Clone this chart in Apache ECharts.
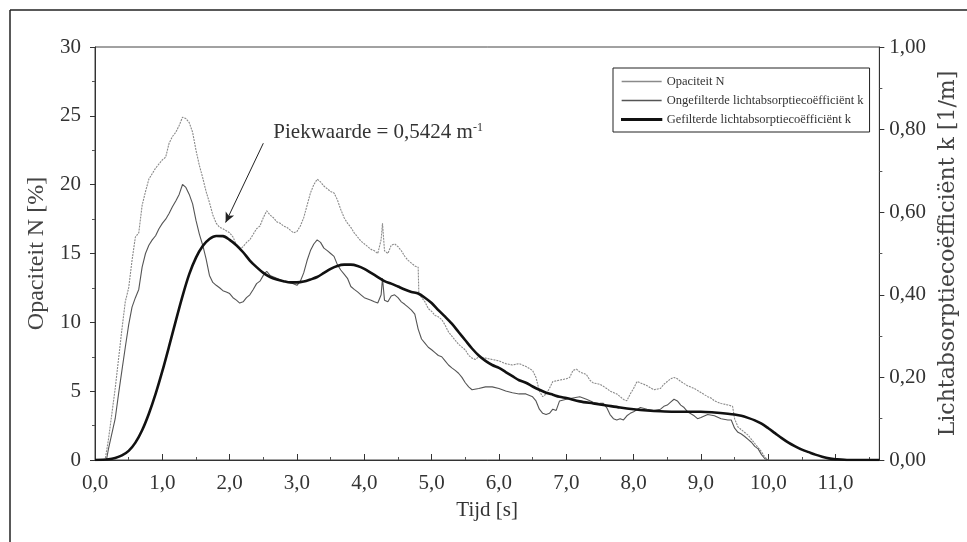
<!DOCTYPE html>
<html>
<head>
<meta charset="utf-8">
<script src="https://cdn.jsdelivr.net/npm/echarts@6/dist/echarts.min.js"></script>
<style>
html,body{margin:0;padding:0;background:#fff;}
#c{width:967px;height:542px;}
</style>
</head>
<body>
<div id="c"></div>
<script>
// ---- data ----
var seriesNames = ['Opaciteit N', 'Ongefilterde lichtabsorptiecoëfficiënt k', 'Gefilterde lichtabsorptiecoëfficiënt k'];
var xTicks = [0,1,2,3,4,5,6,7,8,9,10,11];
// Opaciteit N [%] : [t, N]
var opacityN = [
[0,0],[0.15,0],[0.2,1.5],[0.3,5.2],[0.4,9.5],[0.45,11.5],[0.5,12.5],[0.55,14.5],[0.6,16.2],[0.65,16.5],
[0.7,18.5],[0.75,19.5],[0.8,20.4],[0.9,21.2],[1.0,21.8],[1.05,22.0],[1.1,23.0],[1.15,23.5],[1.2,23.8],[1.25,24.3],
[1.3,24.9],[1.35,24.8],[1.4,24.5],[1.45,23.8],[1.5,22.5],[1.55,21.4],[1.6,20.5],[1.65,19.5],[1.7,18.7],[1.75,17.8],
[1.8,17.2],[1.85,16.9],[1.9,16.8],[2.0,16.5],[2.05,16.2],[2.1,15.6],[2.15,15.3],[2.2,15.5],[2.25,15.8],[2.3,16.0],
[2.35,16.4],[2.4,16.8],[2.45,17.0],[2.5,17.6],[2.55,18.1],[2.6,17.8],[2.65,17.6],[2.7,17.3],[2.75,17.2],[2.8,17.0],
[2.85,16.9],[2.9,16.7],[2.95,16.5],[3.0,16.6],[3.05,17.0],[3.1,17.6],[3.15,18.5],[3.2,19.4],[3.25,20.0],[3.3,20.4],
[3.35,20.2],[3.4,19.9],[3.45,19.7],[3.5,19.5],[3.55,19.4],[3.6,18.9],[3.65,18.2],[3.7,17.6],[3.75,17.2],[3.8,16.9],
[3.85,16.5],[3.9,16.2],[3.95,15.9],[4.0,15.7],[4.05,15.5],[4.1,15.3],[4.15,15.2],[4.2,15.0],[4.25,16.0],[4.27,17.2],
[4.3,15.2],[4.35,15.0],[4.4,15.6],[4.45,15.7],[4.5,15.5],[4.55,15.2],[4.6,14.8],[4.65,14.5],[4.7,14.3],[4.75,14.1],
[4.8,14.0],[4.81,12.1],[4.85,11.8],[4.9,11.5],[4.95,11.0],[5.0,10.8],[5.05,10.5],[5.1,10.4],[5.15,10.2],[5.2,9.8],
[5.25,9.3],[5.3,9.0],[5.35,8.7],[5.4,8.4],[5.45,8.2],[5.5,8.0],[5.55,7.6],[5.6,7.4],[5.65,7.3],[5.7,7.5],
[5.8,7.4],[5.9,7.3],[6.0,7.2],[6.1,7.0],[6.2,6.9],[6.3,7.0],[6.4,6.8],[6.5,6.5],[6.55,6.0],[6.6,5.0],
[6.65,4.6],[6.7,4.8],[6.75,5.2],[6.8,5.7],[6.9,5.8],[7.0,5.9],[7.05,6.0],[7.1,6.5],[7.15,6.6],[7.2,6.4],
[7.25,6.3],[7.3,6.2],[7.35,5.8],[7.4,5.6],[7.5,5.5],[7.6,5.2],[7.65,5.0],[7.7,4.9],[7.75,4.8],[7.8,4.6],
[7.85,4.4],[7.9,4.3],[7.95,4.8],[8.0,5.2],[8.05,5.7],[8.1,5.6],[8.2,5.4],[8.3,5.1],[8.4,5.2],[8.45,5.5],
[8.5,5.7],[8.55,5.9],[8.6,6.0],[8.65,5.9],[8.7,5.7],[8.8,5.4],[8.9,5.2],[9.0,4.9],[9.1,4.6],[9.15,4.5],
[9.2,4.3],[9.3,4.1],[9.4,4.0],[9.47,3.9],[9.5,3.0],[9.55,2.4],[9.6,2.2],[9.65,2.0],[9.7,1.8],[9.75,1.5],
[9.8,1.2],[9.85,0.9],[9.9,0.6],[9.95,0.2],[10.0,0]
];
// Ongefilterde k [1/m] : [t, k]
var kUnfiltered = [
[0,0],[0.17,0],[0.2,0.027],[0.3,0.100],[0.35,0.160],[0.4,0.217],[0.45,0.273],[0.5,0.327],[0.55,0.370],[0.6,0.393],
[0.65,0.413],[0.7,0.467],[0.75,0.500],[0.8,0.520],[0.85,0.533],[0.9,0.543],[0.95,0.560],[1.0,0.573],[1.05,0.583],[1.1,0.597],
[1.15,0.613],[1.2,0.627],[1.25,0.643],[1.3,0.667],[1.35,0.660],[1.4,0.643],[1.45,0.620],[1.5,0.580],[1.55,0.547],[1.6,0.520],
[1.65,0.487],[1.7,0.447],[1.75,0.430],[1.8,0.423],[1.85,0.417],[1.9,0.410],[1.95,0.407],[2.0,0.403],[2.05,0.393],[2.1,0.387],
[2.15,0.380],[2.2,0.383],[2.25,0.393],[2.3,0.400],[2.35,0.413],[2.4,0.427],[2.45,0.433],[2.5,0.447],[2.55,0.457],[2.6,0.447],
[2.7,0.440],[2.8,0.433],[2.9,0.430],[3.0,0.423],[3.05,0.433],[3.1,0.453],[3.15,0.483],[3.2,0.507],[3.25,0.523],[3.3,0.533],
[3.35,0.527],[3.4,0.513],[3.45,0.507],[3.5,0.500],[3.55,0.493],[3.6,0.473],[3.65,0.460],[3.7,0.450],[3.75,0.440],[3.8,0.420],
[3.85,0.413],[3.9,0.407],[3.95,0.400],[4.0,0.393],[4.05,0.390],[4.1,0.387],[4.15,0.383],[4.2,0.380],[4.25,0.400],[4.27,0.440],
[4.3,0.387],[4.35,0.383],[4.4,0.397],[4.45,0.400],[4.5,0.393],[4.55,0.383],[4.6,0.377],[4.65,0.370],[4.7,0.363],[4.75,0.353],
[4.8,0.317],[4.85,0.293],[4.9,0.283],[4.95,0.273],[5.0,0.267],[5.05,0.260],[5.1,0.253],[5.15,0.250],[5.2,0.240],[5.25,0.230],
[5.3,0.223],[5.35,0.217],[5.4,0.210],[5.45,0.200],[5.5,0.187],[5.55,0.177],[5.6,0.170],[5.7,0.173],[5.8,0.177],[5.9,0.177],
[6.0,0.173],[6.1,0.167],[6.2,0.163],[6.3,0.160],[6.4,0.160],[6.5,0.153],[6.55,0.143],[6.6,0.123],[6.65,0.113],[6.7,0.110],
[6.75,0.113],[6.8,0.123],[6.85,0.120],[6.9,0.143],[7.0,0.147],[7.1,0.150],[7.2,0.153],[7.3,0.147],[7.4,0.140],[7.5,0.137],
[7.55,0.137],[7.6,0.127],[7.65,0.110],[7.7,0.100],[7.75,0.097],[7.8,0.100],[7.85,0.097],[7.9,0.107],[7.95,0.113],[8.0,0.117],
[8.1,0.127],[8.2,0.123],[8.3,0.120],[8.4,0.123],[8.45,0.130],[8.5,0.133],[8.55,0.140],[8.6,0.147],[8.65,0.143],[8.7,0.133],
[8.75,0.127],[8.8,0.117],[8.9,0.107],[8.95,0.100],[9.0,0.103],[9.1,0.110],[9.2,0.107],[9.3,0.100],[9.4,0.097],[9.45,0.097],
[9.5,0.077],[9.55,0.067],[9.6,0.063],[9.65,0.057],[9.7,0.050],[9.75,0.043],[9.8,0.033],[9.85,0.027],[9.9,0.013],[9.95,0.003],
[10.0,0]
];
// Gefilterde k [1/m] : [t, k]
var kFiltered = [
[0,0],[0.2,0.002],[0.3,0.005],[0.4,0.011],[0.5,0.022],[0.6,0.042],[0.7,0.072],[0.8,0.112],[0.9,0.160],[1.0,0.215],
[1.1,0.275],[1.2,0.337],[1.3,0.397],[1.4,0.450],[1.5,0.490],[1.6,0.518],[1.7,0.535],[1.8,0.5424],[1.9,0.542],[2.0,0.533],
[2.1,0.520],[2.2,0.503],[2.3,0.483],[2.4,0.467],[2.5,0.453],[2.6,0.443],[2.7,0.437],[2.8,0.433],[2.9,0.430],[3.0,0.430],
[3.1,0.432],[3.2,0.437],[3.3,0.443],[3.4,0.453],[3.5,0.463],[3.6,0.470],[3.7,0.473],[3.8,0.473],[3.9,0.470],[4.0,0.463],
[4.1,0.453],[4.2,0.443],[4.3,0.433],[4.4,0.427],[4.5,0.420],[4.6,0.413],[4.7,0.407],[4.8,0.403],[4.9,0.393],[5.0,0.380],
[5.1,0.363],[5.2,0.347],[5.3,0.330],[5.4,0.310],[5.5,0.290],[5.6,0.270],[5.7,0.253],[5.8,0.240],[5.9,0.230],[6.0,0.223],
[6.1,0.213],[6.2,0.203],[6.3,0.193],[6.4,0.187],[6.5,0.178],[6.6,0.170],[6.7,0.163],[6.8,0.158],[6.9,0.153],[7.0,0.150],
[7.2,0.142],[7.4,0.137],[7.6,0.132],[7.8,0.127],[8.0,0.123],[8.2,0.120],[8.4,0.118],[8.6,0.117],[8.8,0.117],[9.0,0.117],
[9.2,0.115],[9.4,0.112],[9.5,0.110],[9.6,0.107],[9.7,0.102],[9.8,0.096],[9.9,0.088],[10.0,0.077],[10.1,0.065],[10.2,0.053],
[10.3,0.042],[10.4,0.033],[10.5,0.025],[10.6,0.019],[10.7,0.013],[10.8,0.008],[10.9,0.004],[11.0,0.002],[11.2,0],[11.65,0]
];
var peak = { label: 'Piekwaarde = 0,5424 m', from: [2.5, 0.767], to: [1.94, 0.575] };

// ---- chart ----
var FONT = '"Liberation Serif", "DejaVu Serif", serif';
var chart = echarts.init(document.getElementById('c'), null, {renderer: 'canvas'});
var frame = [
  {type: 'line', shape: {x1: 10, y1: 10, x2: 967, y2: 10}, style: {stroke: '#222', lineWidth: 1.5}},
  {type: 'line', shape: {x1: 10, y1: 10, x2: 10, y2: 542}, style: {stroke: '#222', lineWidth: 1.5}}
];
var option = {
  backgroundColor: '#fff',
  animation: false,
  textStyle: {fontFamily: FONT, color: '#222'},
  grid: {left: 95, right: 78, top: 47, bottom: 82, show: true, borderColor: '#444', borderWidth: 1},
  legend: {
    orient: 'vertical', left: 613, top: 68,
    padding: [7, 6, 6, 8], itemGap: 6, itemWidth: 40, itemHeight: 1.5, icon: 'rect',
    borderColor: '#222', borderWidth: 1, backgroundColor: '#fff',
    textStyle: {fontFamily: FONT, fontSize: 12.5, color: '#333'},
    data: [
      {name: seriesNames[0], itemStyle: {color: '#8a8a8a', borderWidth: 0}},
      {name: seriesNames[1], itemStyle: {color: '#555', borderWidth: 0}},
      {name: seriesNames[2], itemStyle: {color: '#111', borderColor: '#111', borderWidth: 1.3}}
    ]
  },
  xAxis: {
    type: 'value', min: 0, max: 11.65, interval: 1,
    name: 'Tijd [s]', nameLocation: 'middle', nameGap: 40,
    nameTextStyle: {fontFamily: FONT, fontSize: 21, color: '#333'},
    axisLine: {lineStyle: {color: '#333', width: 1}},
    axisTick: {inside: true, length: 6, lineStyle: {color: '#333'}},
    minorTick: {show: true, splitNumber: 2, length: 3, lineStyle: {color: '#555'}},
    splitLine: {show: false},
    axisLabel: {fontFamily: FONT, fontSize: 21, color: '#333', margin: 13, showMaxLabel: false,
      formatter: function (v) { return v.toFixed(1).replace('.', ','); }}
  },
  yAxis: [{
    type: 'value', min: 0, max: 30, interval: 5, position: 'left',
    name: 'Opaciteit N [%]', nameLocation: 'middle', nameGap: 44,
    nameTextStyle: {fontFamily: FONT, fontSize: 24, color: '#444'},
    axisLine: {show: true, lineStyle: {color: '#333', width: 1}},
    axisTick: {show: true, length: 5, lineStyle: {color: '#333'}},
    minorTick: {show: true, splitNumber: 2, length: 3, lineStyle: {color: '#555'}},
    splitLine: {show: false},
    axisLabel: {fontFamily: FONT, fontSize: 21, color: '#333', margin: 14}
  }, {
    type: 'value', min: 0, max: 1, interval: 0.2, position: 'right',
    name: 'Lichtabsorptiecoëfficiënt k [1/m]', nameLocation: 'middle', nameGap: 50,
    nameTextStyle: {fontFamily: '"DejaVu Serif", serif', fontSize: 22, color: '#444'},
    axisLine: {show: true, lineStyle: {color: '#333', width: 1}},
    axisTick: {show: true, length: 5, lineStyle: {color: '#333'}},
    minorTick: {show: true, splitNumber: 2, length: 3, lineStyle: {color: '#555'}},
    splitLine: {show: false},
    axisLabel: {fontFamily: FONT, fontSize: 21, color: '#333', margin: 10,
      formatter: function (v) { return v.toFixed(2).replace('.', ','); }}
  }],
  series: [{
    name: seriesNames[0], type: 'line', yAxisIndex: 0, data: opacityN,
    symbol: 'none', lineStyle: {color: '#8a8a8a', width: 1.1, type: [2, 1]}, itemStyle: {color: '#8a8a8a'}, z: 2
  }, {
    name: seriesNames[1], type: 'line', yAxisIndex: 1, data: kUnfiltered,
    symbol: 'none', lineStyle: {color: '#555', width: 1.1}, itemStyle: {color: '#555'}, z: 3
  }, {
    name: seriesNames[2], type: 'line', yAxisIndex: 1, data: kFiltered, smooth: 0.3,
    symbol: 'none', lineStyle: {color: '#111', width: 2.6}, itemStyle: {color: '#111'}, z: 4,
    markLine: {
      silent: true, symbol: ['none', 'arrow'], symbolSize: [7, 10],
      label: {show: false},
      lineStyle: {color: '#222', width: 1, type: 'solid'},
      data: [[{coord: peak.from}, {coord: peak.to}]]
    }
  }],
  graphic: frame
};
chart.setOption(option);
var p = chart.convertToPixel({xAxisIndex: 0, yAxisIndex: 1}, peak.from);
chart.setOption({graphic: frame.concat([
  {type: 'text', left: p[0] + 10, top: p[1] - 21, style: {
    text: '{a|' + peak.label + '}{b|-1}',
    rich: {a: {fontFamily: FONT, fontSize: 21, fill: '#333', color: '#333'},
           b: {fontFamily: FONT, fontSize: 12, verticalAlign: 'top', color: '#333', fill: '#333'}}
  }}
])});
</script>
</body>
</html>
